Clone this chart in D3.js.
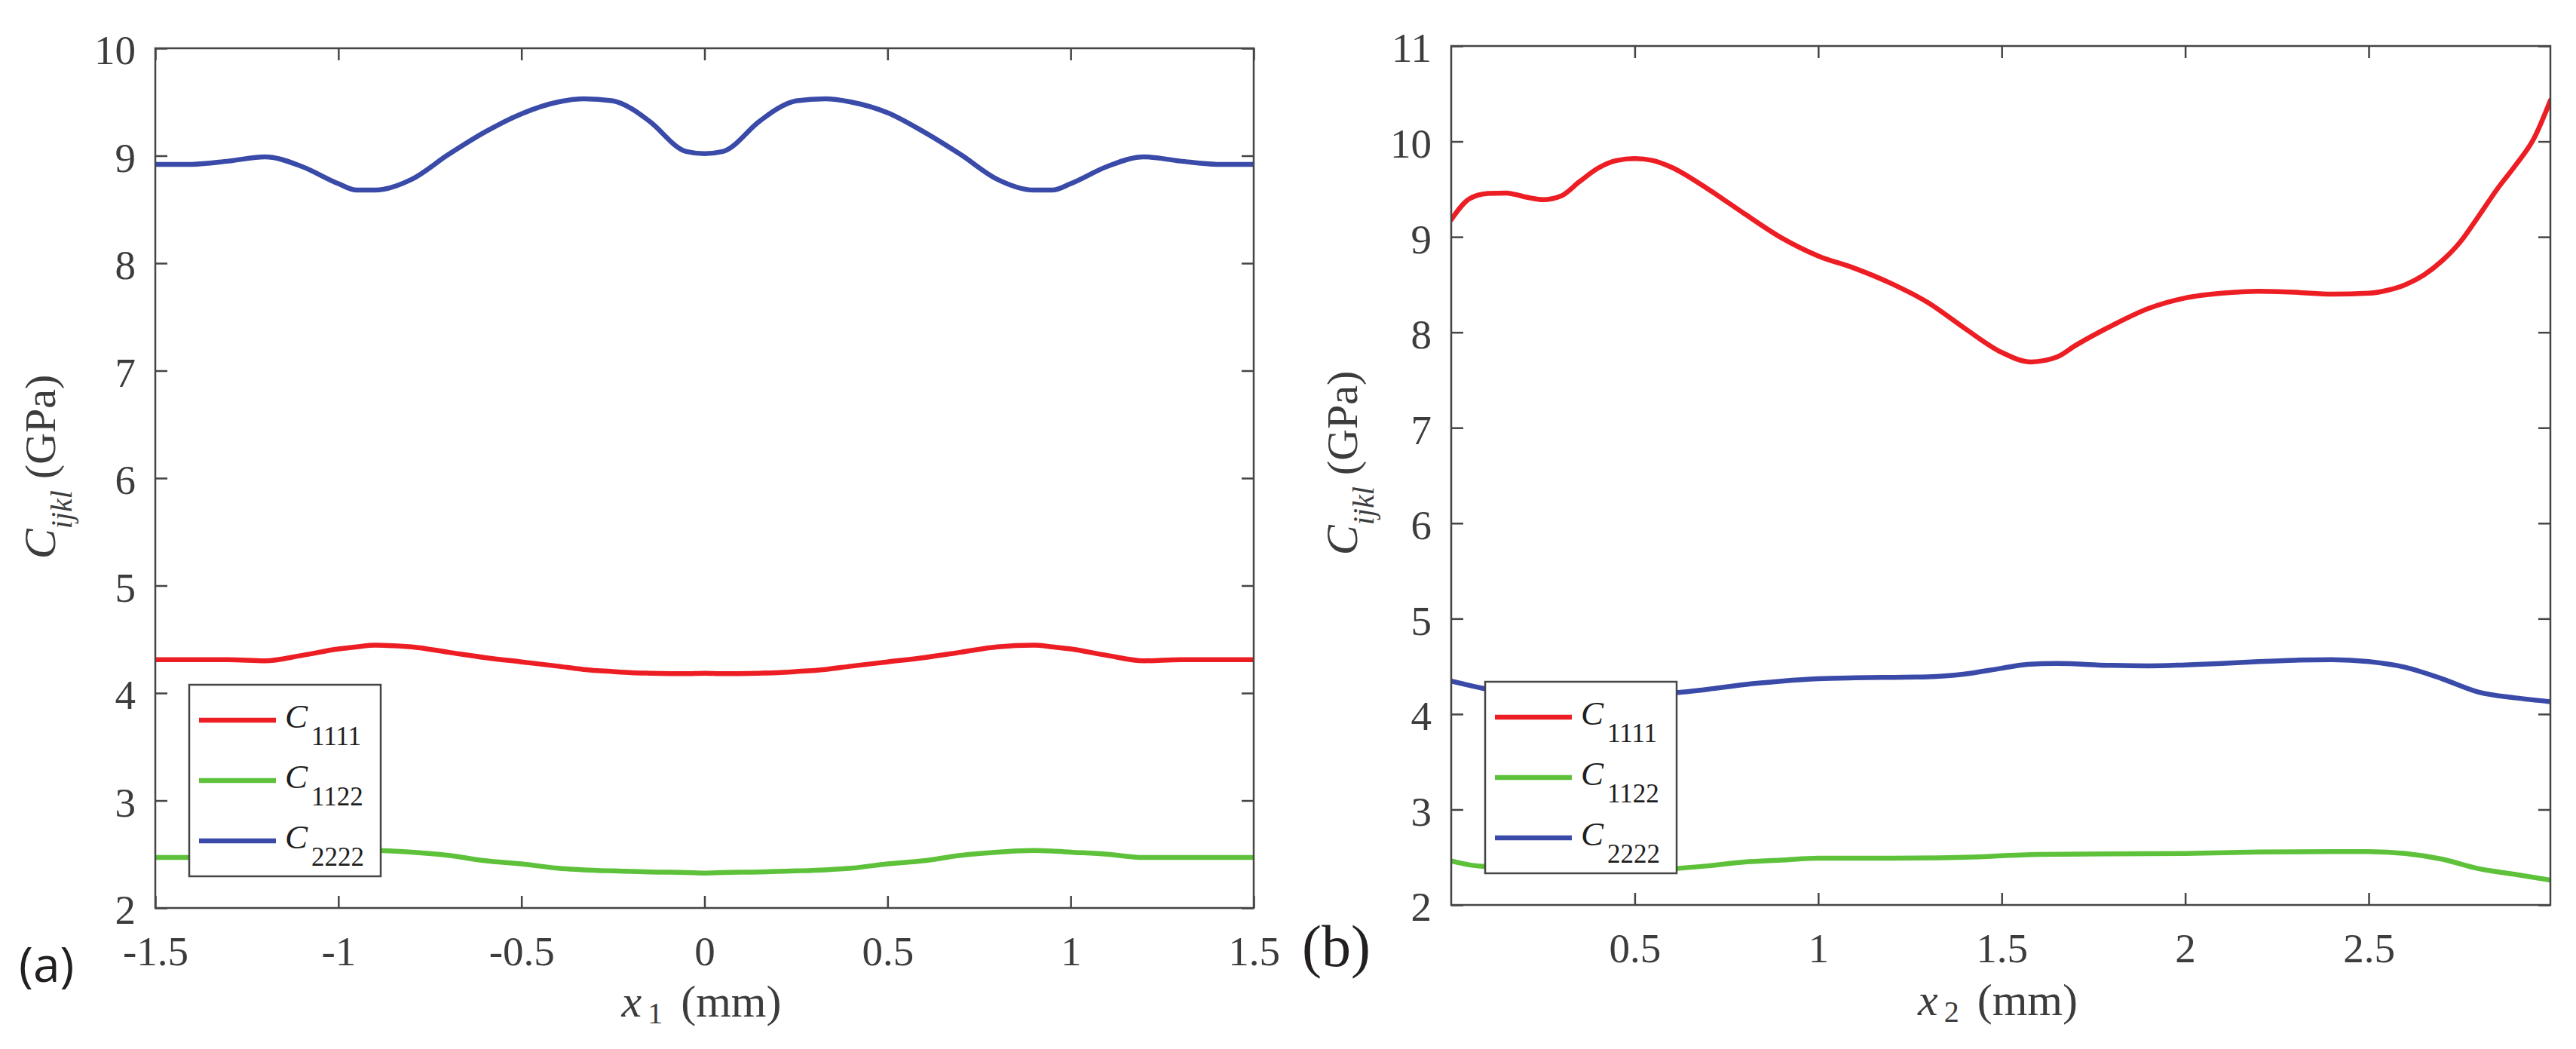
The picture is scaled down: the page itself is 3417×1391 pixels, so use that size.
<!DOCTYPE html>
<html>
<head>
<meta charset="utf-8">
<script src="https://cdn.jsdelivr.net/npm/d3@7"></script>
<style>
  body { margin: 0; background: #fff; }
  svg { display: block; }
</style>
</head>
<body>
<div id="chart"></div>
<script>
// ---- data ----
// panel (a): x1 in mm
const leftX = [-1.5, -1.4, -1.3, -1.2, -1.1, -1.0, -0.95, -0.9, -0.8, -0.7, -0.6, -0.5, -0.4, -0.33, -0.25, -0.2, -0.15, -0.05, 0,
  0.05, 0.15, 0.2, 0.25, 0.33, 0.4, 0.5, 0.6, 0.7, 0.8, 0.9, 0.95, 1.0, 1.1, 1.2, 1.3, 1.4, 1.5];
const leftC1111 = [4.31, 4.31, 4.31, 4.30, 4.35, 4.41, 4.43, 4.445, 4.43, 4.38, 4.33, 4.29, 4.25, 4.22, 4.20, 4.19, 4.185, 4.18, 4.185,
  4.18, 4.185, 4.19, 4.20, 4.22, 4.25, 4.29, 4.33, 4.38, 4.43, 4.445, 4.43, 4.41, 4.35, 4.30, 4.31, 4.31, 4.31];
const leftC1122 = [2.47, 2.47, 2.47, 2.47, 2.50, 2.52, 2.53, 2.535, 2.52, 2.49, 2.44, 2.41, 2.37, 2.355, 2.345, 2.34, 2.335, 2.33, 2.325,
  2.33, 2.335, 2.34, 2.345, 2.355, 2.37, 2.41, 2.44, 2.49, 2.52, 2.535, 2.53, 2.52, 2.50, 2.47, 2.47, 2.47, 2.47];
const leftC2222 = [8.92, 8.92, 8.95, 8.99, 8.90, 8.74, 8.68, 8.68, 8.78, 9.01, 9.22, 9.39, 9.50, 9.53, 9.51, 9.44, 9.32, 9.04, 9.02,
  9.04, 9.32, 9.44, 9.51, 9.53, 9.50, 9.40, 9.22, 9.01, 8.78, 8.68, 8.68, 8.74, 8.90, 8.99, 8.95, 8.92, 8.92];

// panel (b): x2 in mm
const rightX1111 = [0, 0.05, 0.1, 0.15, 0.2, 0.25, 0.3, 0.35, 0.4, 0.45, 0.5, 0.55, 0.6, 0.7, 0.8, 0.9, 1.0, 1.1, 1.2, 1.3, 1.4, 1.5,
  1.58, 1.65, 1.7, 1.8, 1.9, 2.0, 2.1, 2.2, 2.3, 2.4, 2.5, 2.55, 2.6, 2.65, 2.7, 2.75, 2.8, 2.85, 2.9, 2.95, 2.995];
const rightC1111 = [9.18, 9.40, 9.455, 9.46, 9.42, 9.39, 9.43, 9.58, 9.72, 9.80, 9.82, 9.80, 9.73, 9.50, 9.24, 8.99, 8.80, 8.67, 8.51, 8.31, 8.04, 7.79,
  7.69, 7.74, 7.86, 8.07, 8.25, 8.36, 8.41, 8.43, 8.42, 8.40, 8.41, 8.44, 8.50, 8.60, 8.75, 8.95, 9.22, 9.50, 9.75, 10.03, 10.43];
const rightX1122 = [0, 0.05, 0.1, 0.2, 0.3, 0.4, 0.5, 0.6, 0.7, 0.8, 0.9, 1.0, 1.2, 1.4, 1.6, 1.8, 2.0, 2.2, 2.4, 2.5, 2.6, 2.7, 2.8, 2.9, 2.995];
const rightC1122 = [2.46, 2.42, 2.40, 2.37, 2.36, 2.36, 2.365, 2.38, 2.41, 2.45, 2.47, 2.49, 2.49, 2.50, 2.53, 2.535, 2.54, 2.555, 2.56, 2.56, 2.54, 2.48, 2.38, 2.32, 2.26];
const rightX2222 = [0, 0.05, 0.1, 0.2, 0.3, 0.4, 0.5, 0.6, 0.7, 0.8, 0.9, 1.0, 1.1, 1.2, 1.3, 1.4, 1.5, 1.57, 1.65, 1.8, 1.9, 2.0, 2.1, 2.2, 2.3, 2.4, 2.5, 2.6, 2.7, 2.8, 2.9, 2.995];
const rightC2222 = [4.345, 4.30, 4.26, 4.23, 4.21, 4.20, 4.20, 4.22, 4.26, 4.31, 4.345, 4.37, 4.38, 4.385, 4.39, 4.42, 4.48, 4.52, 4.53, 4.51, 4.505, 4.515, 4.53, 4.55, 4.565, 4.57, 4.55, 4.49, 4.37, 4.23, 4.17, 4.13];

const seriesNames = ["1111", "1122", "2222"];
const seriesColors = ["#ed1d24", "#5dc13a", "#3a4aa8"];

const leftXTicks = [-1.5, -1, -0.5, 0, 0.5, 1, 1.5];
const leftYTicks = [2, 3, 4, 5, 6, 7, 8, 9, 10];
const rightXTicks = [0.5, 1, 1.5, 2, 2.5];
const rightYTicks = [2, 3, 4, 5, 6, 7, 8, 9, 10, 11];

const serif = "'Liberation Serif', 'Times New Roman', serif";
const textColor = "#3c3c3c";
const axisColor = "#454545";

const width = 3417, height = 1391;

const svg = d3.select("#chart")
  .append("svg")
  .attr("width", width)
  .attr("height", height)
  .attr("viewBox", `0 0 ${width} ${height}`);

svg.append("rect").attr("width", width).attr("height", height).attr("fill", "#fff");

const zip = (xs, ys) => xs.map((v, i) => [v, ys[i]]);

const panels = [
  {
    id: "a", sub: "1",
    left: 206, top: 64, right: 1663, bottom: 1204,
    xDomain: [-1.5, 1.5], yDomain: [2, 10],
    xTicks: leftXTicks, yTicks: leftYTicks,
    series: [zip(leftX, leftC1111), zip(leftX, leftC1122), zip(leftX, leftC2222)],
    tag: { text: "(a)", x: 25, y: 1302, font: "'Open Sans', 'Noto Sans', sans-serif", size: 64 },
    ylabelX: 73, ylabelY: 619, xlabelY: 1348
  },
  {
    id: "b", sub: "2",
    left: 1925, top: 61, right: 3383, bottom: 1200,
    xDomain: [0, 2.995], yDomain: [2, 11],
    xTicks: rightXTicks, yTicks: rightYTicks,
    series: [zip(rightX1111, rightC1111), zip(rightX1122, rightC1122), zip(rightX2222, rightC2222)],
    tag: { text: "(b)", x: 1727, y: 1281, font: serif, size: 78 },
    ylabelX: 1800, ylabelY: 614, xlabelY: 1346
  }
];

panels.forEach(drawPanel);

function drawPanel(p) {
  const x = d3.scaleLinear().domain(p.xDomain).range([p.left, p.right]);
  const y = d3.scaleLinear().domain(p.yDomain).range([p.bottom, p.top]);

  svg.append("clipPath")
    .attr("id", "clip-" + p.id)
    .append("rect")
    .attr("x", p.left)
    .attr("y", p.top)
    .attr("width", p.right - p.left)
    .attr("height", p.bottom - p.top);

  const line = d3.line()
    .x((d) => x(d[0]))
    .y((d) => y(d[1]))
    .curve(d3.curveMonotoneX);

  svg.append("g")
    .attr("clip-path", `url(#clip-${p.id})`)
    .selectAll("path")
    .data(p.series)
    .enter()
    .append("path")
    .attr("fill", "none")
    .attr("stroke", (d, i) => seriesColors[i])
    .attr("stroke-width", 6.5)
    .attr("stroke-linejoin", "round")
    .attr("stroke-linecap", "round")
    .attr("d", line);

  // axes, ticks pointing inwards on all four sides
  const fmt = (d) => String(d);
  const axes = [
    { axis: d3.axisBottom(x).tickValues(p.xTicks).tickPadding(37).tickFormat(fmt), t: `translate(0,${p.bottom})` },
    { axis: d3.axisTop(x).tickValues(p.xTicks).tickFormat(""), t: `translate(0,${p.top})` },
    { axis: d3.axisLeft(y).tickValues(p.yTicks).tickPadding(26).tickFormat(fmt), t: `translate(${p.left},0)` },
    { axis: d3.axisRight(y).tickValues(p.yTicks).tickFormat(""), t: `translate(${p.right},0)` }
  ];
  axes.forEach((a) => {
    const g = svg.append("g")
      .attr("transform", a.t)
      .call(a.axis.tickSize(-16))
      .attr("font-family", serif)
      .attr("font-size", 55)
      .attr("color", axisColor);
    g.select(".domain").remove();
    g.selectAll(".tick line").attr("stroke-width", 2.5);
    g.selectAll(".tick text").attr("fill", textColor);
  });
  svg.selectAll("g text").filter(function () {
    return this.getAttribute("dy") === "0.32em";
  }).attr("dy", "0.38em");

  svg.append("rect")
    .attr("x", p.left)
    .attr("y", p.top)
    .attr("width", p.right - p.left)
    .attr("height", p.bottom - p.top)
    .attr("fill", "none")
    .attr("stroke", axisColor)
    .attr("stroke-width", 2.5);

  // y label
  const yl = svg.append("text")
    .attr("transform", `translate(${p.ylabelX},${p.ylabelY}) rotate(-90)`)
    .attr("text-anchor", "middle")
    .attr("font-family", serif)
    .attr("fill", textColor);
  yl.append("tspan").attr("font-style", "italic").attr("font-size", 60).text("C");
  yl.append("tspan").attr("font-style", "italic").attr("font-size", 40).attr("dy", 22).text("ijkl");
  yl.append("tspan").attr("font-size", 58).attr("dy", -22).attr("dx", 15).text("(GPa)");

  // x label
  const xl = svg.append("text")
    .attr("x", (p.left + p.right) / 2 - 4)
    .attr("y", p.xlabelY)
    .attr("text-anchor", "middle")
    .attr("font-family", serif)
    .attr("fill", textColor);
  xl.append("tspan").attr("font-style", "italic").attr("font-size", 60).text("x");
  xl.append("tspan").attr("font-size", 40).attr("dy", 9).attr("dx", 8).text(p.sub);
  xl.append("tspan").attr("font-size", 60).attr("dy", -9).attr("dx", 24).text("(mm)");

  // panel tag
  svg.append("text")
    .attr("x", p.tag.x)
    .attr("y", p.tag.y)
    .attr("font-family", p.tag.font)
    .attr("font-size", p.tag.size)
    .attr("fill", "#231f20")
    .text(p.tag.text);

  // legend
  const lx = p.left + 45, ly = p.bottom - 42 - 254;
  const legend = svg.append("g").attr("transform", `translate(${lx},${ly})`);
  legend.append("rect")
    .attr("width", 254)
    .attr("height", 254)
    .attr("fill", "#fff")
    .attr("stroke", axisColor)
    .attr("stroke-width", 2.5);
  const rows = legend.selectAll(".row")
    .data(seriesNames)
    .enter()
    .append("g")
    .attr("class", "row")
    .attr("transform", (d, i) => `translate(0,${47 + i * 80})`);
  rows.append("line")
    .attr("x1", 13)
    .attr("x2", 115)
    .attr("stroke", (d, i) => seriesColors[i])
    .attr("stroke-width", 6.5);
  const lt = rows.append("text")
    .attr("x", 127)
    .attr("y", 10)
    .attr("font-family", serif)
    .attr("fill", "#1e1e1e");
  lt.append("tspan").attr("font-style", "italic").attr("font-size", 45).text("C");
  lt.append("tspan").attr("font-size", 35).attr("dx", 5).attr("dy", 23).text((d) => d);
}
</script>
</body>
</html>
